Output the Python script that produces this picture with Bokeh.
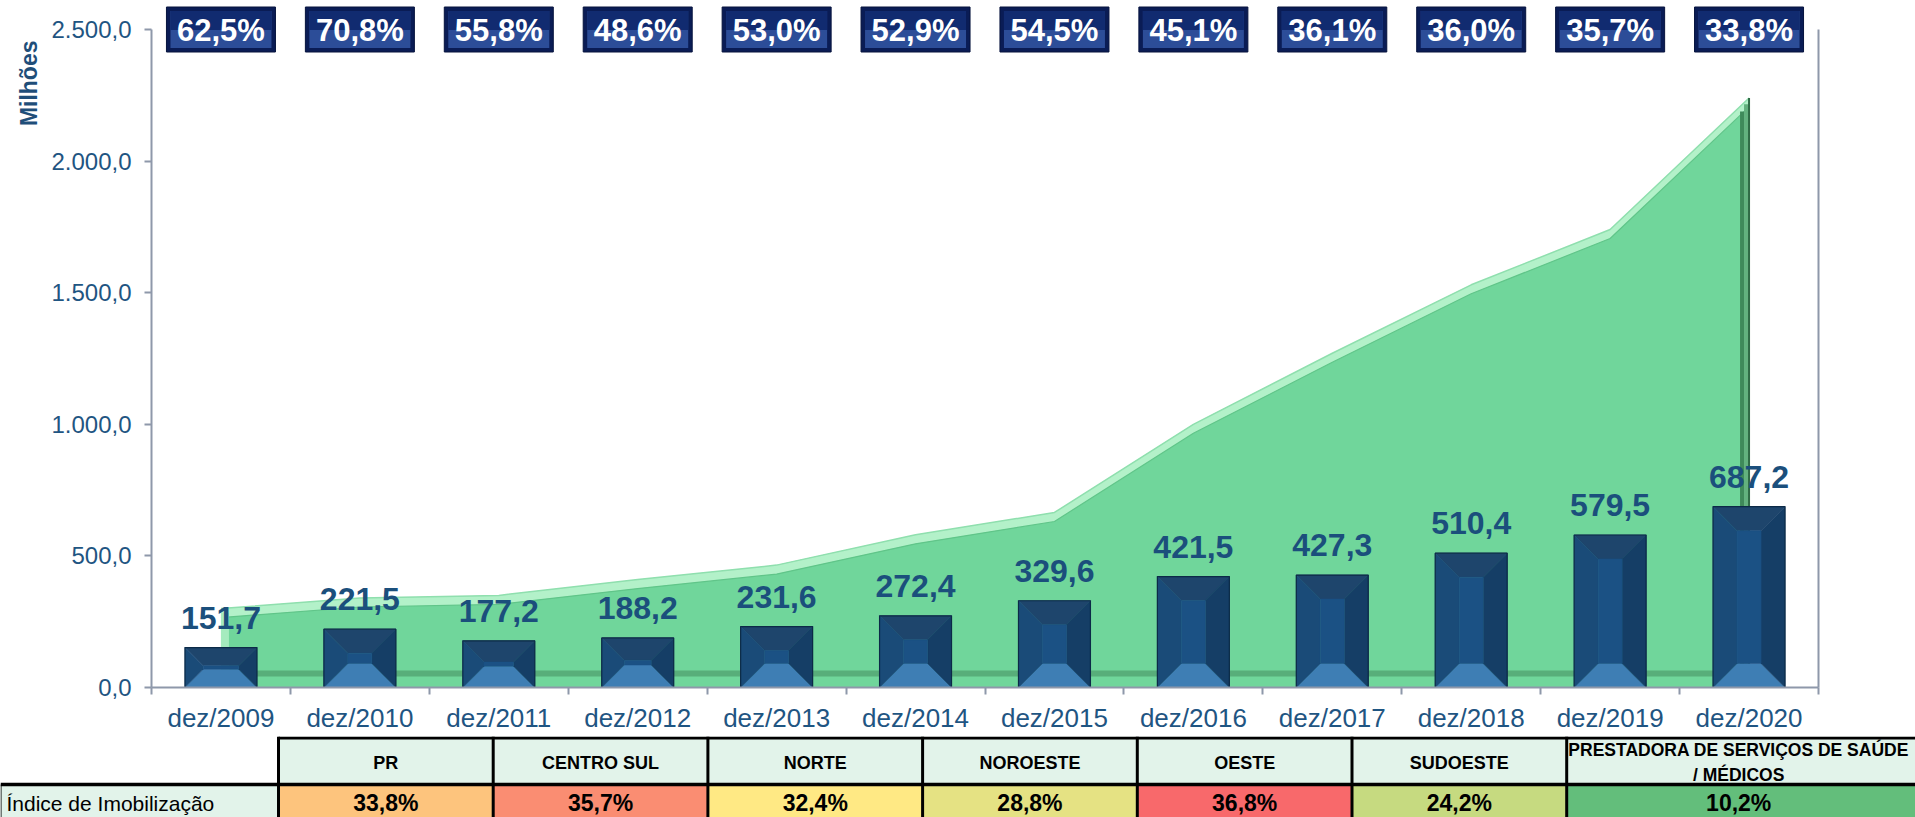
import numpy as np
from bokeh.plotting import figure
from bokeh.models import Range1d, FixedTicker, LinearAxis, Title
from bokeh.layouts import column
from bokeh.core.properties import value
from bokeh.embed import file_html
from bokeh.resources import INLINE

# ---------------- data ----------------
periods = ["dez/2009", "dez/2010", "dez/2011", "dez/2012", "dez/2013", "dez/2014",
           "dez/2015", "dez/2016", "dez/2017", "dez/2018", "dez/2019", "dez/2020"]
bar_values = [151.7, 221.5, 177.2, 188.2, 231.6, 272.4, 329.6, 421.5, 427.3, 510.4, 579.5, 687.2]
bar_labels = ["151,7", "221,5", "177,2", "188,2", "231,6", "272,4", "329,6", "421,5",
              "427,3", "510,4", "579,5", "687,2"]
area_values = [300, 340, 350, 410, 465, 580, 665, 1000, 1270, 1530, 1740, 2240]
index_labels = ["62,5%", "70,8%", "55,8%", "48,6%", "53,0%", "52,9%", "54,5%", "45,1%",
                "36,1%", "36,0%", "35,7%", "33,8%"]
y_ticks = [0, 500, 1000, 1500, 2000, 2500]
y_title = "Milhões"

regions = ["PR", "CENTRO SUL", "NORTE", "NOROESTE", "OESTE", "SUDOESTE",
           "PRESTADORA DE SERVIÇOS DE SAÚDE\n/ MÉDICOS"]
region_index = ["33,8%", "35,7%", "32,4%", "28,8%", "36,8%", "24,2%", "10,2%"]
region_colors = ["#FDC47D", "#FA8D72", "#FFE984", "#E5E283", "#F8696B", "#C6DA80", "#63BE7B"]
row_label = "Índice de Imobilização"


def fmt_br(v):
    s = f"{v:,.1f}"
    return s.replace(",", "X").replace(".", ",").replace("X", ".")


# ---------------- layout constants ----------------
W = 1915
CH = 736
TH = 81
FL, FR = 151, 1818
FB = 687
Y_TOP = 2500 * FB / (FB - 29)
N = len(periods)
px_x = (FR - FL) / N
px_y = FB / Y_TOP

FONT = "Liberation Sans"
AXIS_COLOR = "#8E98AA"
TEXT_BLUE = "#1F5582"
LABEL_BLUE = "#1B4F7C"

p = figure(width=W, height=CH, x_range=Range1d(0, N), y_range=Range1d(0, Y_TOP),
           output_backend="svg", toolbar_location=None,
           min_border_left=FL, min_border_right=W - FR, min_border_top=0,
           min_border_bottom=CH - FB)
p.frame_align = False
p.grid.visible = False
p.outline_line_color = None
p.background_fill_color = "white"

xc = np.arange(N) + 0.5
area = np.array(area_values, dtype=float)
bars = np.array(bar_values, dtype=float)

# ---------------- area (3D-ish) ----------------
band = 9 / px_y
p.varea(x=xc, y1=0, y2=area, fill_color="#70D69B")
p.varea(x=xc, y1=area - band, y2=area, fill_color="#B3F1C9")
p.line(xc, area, line_color="#8FDFAE", line_width=1.5)
p.line(xc, area - band, line_color="#60C589", line_width=1.2)
p.varea(x=xc, y1=11 / px_y, y2=17 / px_y, fill_color="#58AE7A")
# left edge highlight
p.quad(left=[xc[0]], right=[xc[0] + 8 / px_x], bottom=[11 / px_y], top=[area[0] - band * 0.5],
       fill_color="#A5EBBE", line_color=None)
# right edge shading
p.quad(left=[xc[-1] - 9 / px_x], right=[xc[-1] - 5 / px_x], bottom=[0], top=[area[-1] - band * 1.5],
       fill_color="#3F8A5A", line_color=None)
p.quad(left=[xc[-1] - 5 / px_x], right=[xc[-1]], bottom=[0], top=[area[-1] - band * 0.7],
       fill_color="#63B17E", line_color=None)
p.segment(x0=[xc[-1]], y0=[0], x1=[xc[-1]], y1=[area[-1]], line_color="#2F6B45", line_width=2)

# ---------------- bars with bevel ----------------
hw = 0.259
faces = {"top": ([], [], "#1E456C"), "bottom": ([], [], "#3E7EB4"),
         "left": ([], [], "#1A4B78"), "right": ([], [], "#153E66"),
         "center": ([], [], "#1B5184")}
for c, h in zip(xc, bars):
    by = min(24 / px_y, h / 2.2)
    bx = (by * px_y) / px_x
    l, r = c - hw, c + hw
    il, ir = l + bx, r - bx
    faces["top"][0].append([l, r, ir, il]); faces["top"][1].append([h, h, h - by, h - by])
    faces["bottom"][0].append([l, r, ir, il]); faces["bottom"][1].append([0, 0, by, by])
    faces["left"][0].append([l, l, il, il]); faces["left"][1].append([0, h, h - by, by])
    faces["right"][0].append([r, r, ir, ir]); faces["right"][1].append([0, h, h - by, by])
    faces["center"][0].append([il, ir, ir, il]); faces["center"][1].append([by, by, h - by, h - by])
for name, (xs, ys, col) in faces.items():
    p.patches(xs, ys, fill_color=col, line_color=col, line_width=0.5)
p.quad(left=xc - hw, right=xc + hw, bottom=0, top=bars, fill_color=None,
       line_color="#0C2A47", line_width=1.2)

p.text(x=xc, y=bars, text=bar_labels, y_offset=-30, text_align="center",
       text_baseline="alphabetic", text_font=value(FONT), text_font_style="bold",
       text_font_size="32px", text_color=LABEL_BLUE)

# ---------------- top index boxes ----------------
p.rect(x=xc, y=2500, width=109, height=45, width_units="screen", height_units="screen",
       fill_color="#0A1C55", line_color="#06133D", line_width=1)
p.rect(x=xc, y=2500, width=101, height=37, width_units="screen", height_units="screen",
       fill_color="#2C4D98", line_color=None)
p.rect(x=xc, y=2500 + 9 / px_y, width=101, height=19, width_units="screen", height_units="screen",
       fill_color="#112B70", line_color=None)
p.text(x=xc, y=2500, text=index_labels, text_align="center", text_baseline="middle",
       text_font=value(FONT), text_font_style="bold", text_font_size="31px",
       text_color="white", y_offset=1)

# ---------------- axes ----------------
xax = p.xaxis[0]
xax.ticker = FixedTicker(ticks=list(xc), minor_ticks=list(range(N + 1)))
xax.major_label_overrides = {float(c): lab for c, lab in zip(xc, periods)}
xax.major_tick_out = 0
xax.major_tick_in = 0
xax.minor_tick_out = 7
xax.minor_tick_in = 0
xax.minor_tick_line_color = AXIS_COLOR
xax.minor_tick_line_width = 2
xax.axis_line_color = AXIS_COLOR
xax.axis_line_width = 2
xax.major_label_text_font = FONT
xax.major_label_text_font_size = "26px"
xax.major_label_text_color = TEXT_BLUE
xax.major_label_standoff = 8

yax = p.yaxis[0]
yax.ticker = FixedTicker(ticks=y_ticks, minor_ticks=[])
yax.major_label_overrides = {t: fmt_br(t) for t in y_ticks}
yax.bounds = (0, 2500)
yax.major_tick_out = 7
yax.major_tick_in = 0
yax.major_tick_line_color = AXIS_COLOR
yax.major_tick_line_width = 2
yax.axis_line_color = AXIS_COLOR
yax.axis_line_width = 2
yax.major_label_text_font = FONT
yax.major_label_text_font_size = "24px"
yax.major_label_text_color = TEXT_BLUE
yax.major_label_standoff = 13

rax = LinearAxis(bounds=(0, 2500), ticker=FixedTicker(ticks=[]), major_label_text_font_size="0px",
                 major_tick_out=0, major_tick_in=0, minor_tick_out=0, minor_tick_in=0,
                 axis_line_color=AXIS_COLOR, axis_line_width=2)
p.add_layout(rax, "right")

p.add_layout(Title(text=y_title, align="right", offset=40, text_font=FONT,
                   text_font_style="bold", text_font_size="23px", text_color="#1F4E79",
                   standoff=14), "left")

# ---------------- table ----------------
t = figure(width=W, height=TH, x_range=Range1d(0, W), y_range=Range1d(TH, 0),
           output_backend="svg", toolbar_location=None, min_border=0,
           x_axis_location=None, y_axis_location=None)
t.frame_align = False
t.grid.visible = False
t.outline_line_color = None

col_w = [214.7] * 6 + [344]
x0 = 278 + np.concatenate([[0], np.cumsum(col_w)[:-1]])
x1 = x0 + np.array(col_w)
x1[-1] = W + 20
xm = x0 + np.array(col_w) / 2
HR = 48
head_sizes = ["18px"] * 6 + ["17.5px"]

t.quad(left=x0, right=x1, top=0, bottom=HR, fill_color="#E2F3EA", line_color=None)
t.quad(left=x0, right=x1, top=HR, bottom=TH + 10, fill_color=region_colors, line_color=None)
t.quad(left=[-10], right=[x0[0]], top=[HR], bottom=[TH + 10], fill_color="#E2F3EA", line_color=None)

t.segment(x0=[x0[0]], y0=[1.5], x1=[W + 5], y1=[1.5], line_color="black", line_width=3)
t.segment(x0=[0], y0=[HR], x1=[W + 5], y1=[HR], line_color="black", line_width=3.5)
t.segment(x0=x0, y0=0, x1=x0, y1=TH + 5, line_color="black", line_width=3)
t.segment(x0=[0.5], y0=[HR], x1=[0.5], y1=[TH + 5], line_color="black", line_width=1)

t.text(x=xm, y=26, text=regions, text_align="center", text_baseline="middle",
       text_font=value(FONT), text_font_style="bold", text_font_size=head_sizes,
       text_color="black", text_line_height=1.25)
t.text(x=xm, y=66, text=region_index, text_align="center", text_baseline="middle",
       text_font=value(FONT), text_font_style="bold", text_font_size="23px",
       text_color="black")
t.text(x=[6], y=[67], text=[row_label], text_align="left", text_baseline="middle",
       text_font=value(FONT), text_font_size="21px", text_color="black")

layout = column(p, t, spacing=0)
open("out.html", "w").write(file_html(layout, INLINE))
